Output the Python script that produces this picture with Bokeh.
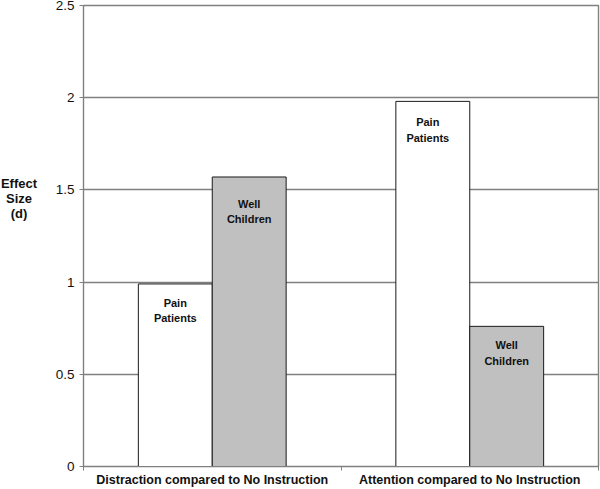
from bokeh.plotting import figure
from bokeh.layouts import row
from bokeh.models import (ColumnDataSource, FixedTicker, NumeralTickFormatter,
                          CustomJSTickFormatter, Div)
from bokeh.transform import dodge
from bokeh.core.properties import value
from bokeh.embed import file_html
from bokeh.resources import INLINE

# ---- data ----
categories = ["Distraction compared to No Instruction",
              "Attention compared to No Instruction"]
groups = ["Pain Patients", "Well Children"]
pain_patients = [0.99, 1.98]
well_children = [1.57, 0.76]
bar_labels = ["Pain\nPatients", "Well\nChildren"]
y_ticks = [0, 0.5, 1, 1.5, 2, 2.5]
y_title_lines = ["Effect", "Size", "(d)"]

# ---- styles ----
FONT = "Liberation Sans"
bar_fill = {"Pain Patients": "#ffffff", "Well Children": "#c0c0c0"}
offsets = {"Pain Patients": -0.1435, "Well Children": 0.1435}
label_dy = {"Pain Patients": [13, 15], "Well Children": [21, 13]}
label_dx = {"Pain Patients": [0, -5], "Well Children": [0, 0]}
BAR_W = 0.287
DIV_W = 38

p = figure(width=600 - DIV_W, height=489, x_range=(0, 2), y_range=(0, 2.5),
           output_backend="svg", toolbar_location=None,
           min_border_left=83 - DIV_W, min_border_right=2, min_border_top=5,
           min_border_bottom=23)

xc = [i + 0.5 for i in range(len(categories))]
for gi, (g, vals) in enumerate(zip(groups, [pain_patients, well_children])):
    src = ColumnDataSource(dict(x=xc, top=vals,
                                lab=[bar_labels[gi]] * len(vals),
                                dy=label_dy[g], dx=label_dx[g]))
    p.vbar(x=dodge("x", offsets[g], range=p.x_range), top="top", bottom=0,
           width=BAR_W, source=src, fill_color=bar_fill[g],
           line_color="#1a1a1a", line_width=1)
    p.text(x=dodge("x", offsets[g], range=p.x_range), y="top", text="lab",
           source=src, y_offset="dy", x_offset="dx", text_align="center",
           text_baseline="top", text_font=value(FONT),
           text_font_style="bold", text_font_size="11px",
           text_line_height=1.27, text_color="#111111")

# y axis
p.yaxis.ticker = FixedTicker(ticks=y_ticks)
p.yaxis.formatter = NumeralTickFormatter(format="0.[0]")
p.yaxis.major_tick_in = 0
p.yaxis.major_tick_out = 4
p.yaxis.minor_tick_line_color = None
p.yaxis.major_label_text_font = FONT
p.yaxis.major_label_text_font_size = "13.5px"
p.yaxis.major_label_text_color = "#111111"
p.yaxis.major_label_standoff = 5
p.yaxis.axis_line_color = "#808080"
p.yaxis.major_tick_line_color = "#808080"

# x axis
p.xaxis.ticker = FixedTicker(ticks=xc, minor_ticks=[0, 1, 2])
p.xaxis.formatter = CustomJSTickFormatter(args=dict(cats=categories),
                                          code="return cats[Math.floor(tick)];")
p.xaxis.major_tick_in = 0
p.xaxis.major_tick_out = 0
p.xaxis.minor_tick_in = 0
p.xaxis.minor_tick_out = 4
p.xaxis.minor_tick_line_color = "#808080"
p.xaxis.axis_line_color = "#808080"
p.xaxis.major_label_text_font = FONT
p.xaxis.major_label_text_font_style = "bold"
p.xaxis.major_label_text_font_size = "12.5px"
p.xaxis.major_label_text_color = "#111111"
p.xaxis.major_label_standoff = 2

p.xgrid.grid_line_color = None
p.ygrid.grid_line_color = "#808080"
p.ygrid.grid_line_width = 1.4
p.outline_line_color = "#808080"
p.outline_line_width = 1.4

title_html = "<br>".join(y_title_lines)
div = Div(text=(f'<div style="font-family:\'{FONT}\';font-weight:bold;'
                'font-size:13px;line-height:15px;color:#111111;'
                f'text-align:center;width:{DIV_W}px;padding-top:176px;">'
                f'{title_html}</div>'),
          width=DIV_W, height=489, margin=0)

layout = row(div, p, spacing=0)
open("out.html", "w").write(file_html(layout, INLINE))
